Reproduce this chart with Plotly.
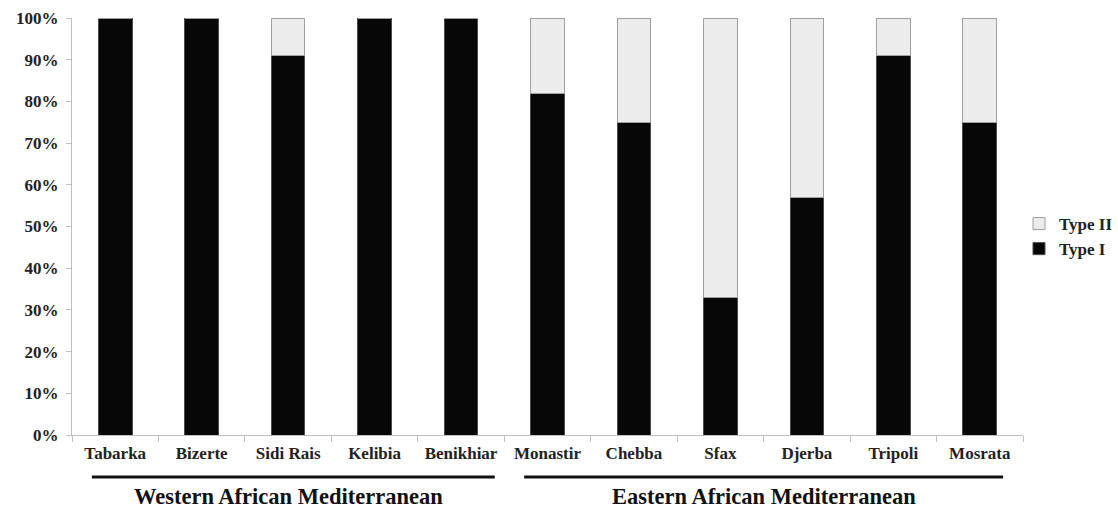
import plotly.graph_objects as go

sites = ["Tabarka", "Bizerte", "Sidi Rais", "Kelibia", "Benikhiar",
         "Monastir", "Chebba", "Sfax", "Djerba", "Tripoli", "Mosrata"]
type_i = [100, 100, 91, 100, 100, 82, 75, 33, 57, 91, 75]
type_ii = [100 - v for v in type_i]
groups = [("Western African Mediterranean", 0, 4),
          ("Eastern African Mediterranean", 5, 10)]
y_ticks = list(range(0, 101, 10))

W, H = 1118, 510
ml, mr, mt, mb = 72, 95, 18, 75
plot_h = H - mt - mb
plot_w = W - ml - mr

fig = go.Figure()
fig.add_trace(go.Bar(x=sites, y=type_i, name="Type I", width=0.39,
                     marker=dict(color="#070707", line=dict(color="#4a4a4a", width=1))))
fig.add_trace(go.Bar(x=sites, y=type_ii, name="Type II", width=0.39,
                     marker=dict(color="#ececec", line=dict(color="#a0a0a0", width=1))))

serif = "Liberation Serif, Times New Roman, serif"
fig.update_layout(
    barmode="stack",
    width=W, height=H,
    margin=dict(l=ml, r=mr, t=mt, b=mb, autoexpand=False),
    plot_bgcolor="white", paper_bgcolor="white",
    font=dict(family=serif, color="#222222", size=17, weight="bold"),
    showlegend=True,
    legend=dict(x=(1019 - ml) / plot_w, y=1 - (236.5 - mt) / plot_h,
                xanchor="left", yanchor="middle",
                traceorder="reversed",
                font=dict(family=serif, size=17, color="#222222", weight="bold"),
                itemwidth=30, tracegroupgap=0, bgcolor="rgba(0,0,0,0)"),
)
fig.update_xaxes(
    type="category", range=[-0.5, len(sites) - 0.5], automargin=False,
    showline=True, linecolor="#c0c0c0", linewidth=1,
    ticks="outside", tickson="boundaries", ticklen=6, tickcolor="#c0c0c0",
    showgrid=False, ticklabelstandoff=3,
    tickfont=dict(family=serif, size=17, color="#222222", weight="bold"),
)
fig.update_yaxes(
    range=[0, 100], tickvals=y_ticks, ticktext=[f"{v}%" for v in y_ticks],
    automargin=False,
    showline=True, linecolor="#c0c0c0", linewidth=1,
    ticks="outside", ticklen=5, tickcolor="#c0c0c0",
    showgrid=False, zeroline=False, ticklabelstandoff=4,
    tickfont=dict(family=serif, size=17, color="#222222", weight="bold"),
)

line_y = -42 / plot_h
label_y = -61 / plot_h
for label, i0, i1 in groups:
    fig.add_shape(type="line", xref="x", yref="paper",
                  x0=i0 - 0.27, x1=i1 + 0.27 + (0.12 if i0 == 0 else 0),
                  y0=line_y, y1=line_y,
                  line=dict(color="#111111", width=3))
    fig.add_annotation(xref="x", yref="paper", x=(i0 + i1) / 2, y=label_y,
                       text=label, showarrow=False, yanchor="middle", borderpad=0,
                       font=dict(family=serif, size=22.5, color="#111111", weight="bold"))

fig.write_html("out.html", config={"displayModeBar": False},
               post_script="document.body.style.margin='0';document.body.style.overflow='hidden';")
